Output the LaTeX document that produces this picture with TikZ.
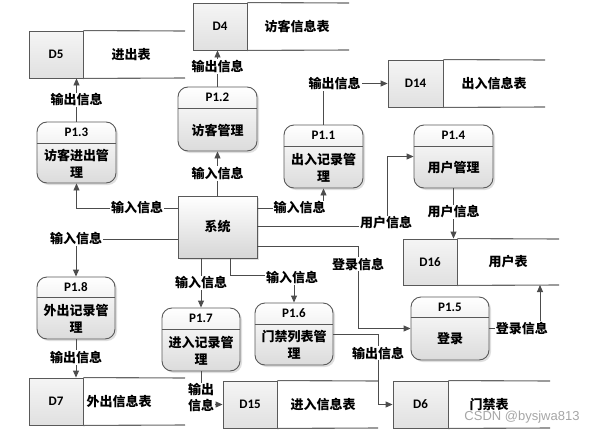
\documentclass[tikz,border=0pt]{standalone}
\usepackage{fontspec}
\setmainfont{Carlito}
\newfontfamily\cjk{Noto Sans CJK SC}
\setsansfont{Liberation Sans}
\usetikzlibrary{arrows.meta,shadows}

\begin{document}
\begin{tikzpicture}[x=1pt, y=-1pt, font=\fontsize{13}{17}\selectfont\bfseries,
  >={Triangle[length=7pt,width=6pt]},
  flow/.style={draw=black!70, line width=0.9pt},
  lbl/.style={fill=white, inner sep=1pt, align=center, font=\fontsize{13}{16}\selectfont\cjk\bfseries},
  proc/.style={draw=black!65, line width=0.9pt, rounded corners=10pt, minimum width=79pt, minimum height=63pt,
    top color=white, bottom color=black!14, drop shadow={shadow xshift=2pt, shadow yshift=-2pt, opacity=0.25}},
  sysbox/.style={draw=black!65, line width=0.9pt, minimum width=79pt, minimum height=62pt,
    top color=white, bottom color=black!16, drop shadow={shadow xshift=2pt, shadow yshift=-2pt, opacity=0.25}},
  sep/.style={draw=black!65, line width=0.9pt},
  pid/.style={font=\fontsize{13}{15}\selectfont\bfseries},
  ptxt/.style={align=center, font=\fontsize{13}{17}\selectfont\cjk\bfseries},
  idcell/.style={draw=black!65, line width=0.9pt, minimum width=54pt, minimum height=47pt,
    top color=black!4, bottom color=black!12},
  storeline/.style={draw=black!60, line width=1.1pt},
  storetxt/.style={font=\fontsize{13}{15}\selectfont\cjk\bfseries}]

  \useasboundingbox (0,0) rectangle (600,434);

  % system
  \node[sysbox, font=\fontsize{13}{15}\selectfont\cjk\bfseries] (sys) at (217.5,227) {系统};

  % data stores
  \node[idcell] (d4) at (220,26.5) {D4};
  \node[storetxt] (d4t) at (297,26.5) {访客信息表};
  \draw[storeline] (d4.north east) -- (349,3);
  \draw[storeline] (d4.south east) -- (349,50);

  \node[idcell] (d5) at (56,54.5) {D5};
  \node[storetxt] (d5t) at (131,54.5) {进出表};
  \draw[storeline] (d5.north east) -- (185,31);
  \draw[storeline] (d5.south east) -- (185,78);

  \node[idcell, minimum width=55pt] (d14) at (415.5,83.5) {D14};
  \node[storetxt] (d14t) at (494,83.5) {出入信息表};
  \draw[storeline] (d14.north east) -- (545,60);
  \draw[storeline] (d14.south east) -- (545,107);

  \node[idcell, minimum height=46pt] (d16) at (430,262) {D16};
  \node[storetxt] (d16t) at (508,262) {用户表};
  \draw[storeline] (d16.north east) -- (559,239);
  \draw[storeline] (d16.south east) -- (559,285);
  \coordinate (d16b) at (540,285);

  \node[idcell, minimum width=55pt] (d6) at (420.5,404.5) {D6};
  \node[storetxt] (d6t) at (489,404.5) {门禁表};
  \draw[storeline] (d6.north east) -- (550,381);
  \draw[storeline] (d6.south east) -- (550,428);

  \node[idcell] (d15) at (250,404.5) {D15};
  \node[storetxt] (d15t) at (323,404.5) {进入信息表};
  \draw[storeline] (d15.north east) -- (378,381);
  \draw[storeline] (d15.south east) -- (378,428);

  \node[idcell] (d7) at (56,401.5) {D7};
  \node[storetxt] (d7t) at (119,401.5) {外出信息表};
  \draw[storeline] (d7.north east) -- (185,378);
  \draw[storeline] (d7.south east) -- (185,425);

  % processes
  \node[proc, minimum height=64pt] (p12) at (217.5,119) {};
  \draw[sep] ([yshift=-22pt]p12.north west) -- ([yshift=-22pt]p12.north east);
  \node[pid] at ([yshift=-11pt]p12.north) {P1.2};
  \node[ptxt] at ([yshift=-11pt]p12.center) {访客管理};

  \node[proc, minimum height=61pt] (p13) at (76.5,152.5) {};
  \draw[sep] ([yshift=-22pt]p13.north west) -- ([yshift=-22pt]p13.north east);
  \node[pid] at ([yshift=-11pt]p13.north) {P1.3};
  \node[ptxt] at ([yshift=-11pt]p13.center) {访客进出管\\理};

  \node[proc] (p11) at (323.5,156.5) {};
  \draw[sep] ([yshift=-22pt]p11.north west) -- ([yshift=-22pt]p11.north east);
  \node[pid] at ([yshift=-11pt]p11.north) {P1.1};
  \node[ptxt] at ([yshift=-11pt]p11.center) {出入记录管\\理};

  \node[proc] (p14) at (453.5,156.5) {};
  \draw[sep] ([yshift=-22pt]p14.north west) -- ([yshift=-22pt]p14.north east);
  \node[pid] at ([yshift=-11pt]p14.north) {P1.4};
  \node[ptxt] at ([yshift=-11pt]p14.center) {用户管理};

  \node[proc, minimum width=78pt] (p15) at (450,328.5) {};
  \draw[sep] ([yshift=-21pt]p15.north west) -- ([yshift=-21pt]p15.north east);
  \node[pid] at ([yshift=-10.5pt]p15.north) {P1.5};
  \node[ptxt] at ([yshift=-10.5pt]p15.center) {登录};

  \node[proc, minimum width=78pt, minimum height=62pt] (p16) at (294,334) {};
  \draw[sep] ([yshift=-22pt]p16.north west) -- ([yshift=-22pt]p16.north east);
  \node[pid] at ([yshift=-11pt]p16.north) {P1.6};
  \node[ptxt] at ([yshift=-11pt]p16.center) {门禁列表管\\理};

  \node[proc, minimum width=78pt] (p17) at (201,339.5) {};
  \draw[sep] ([yshift=-22pt]p17.north west) -- ([yshift=-22pt]p17.north east);
  \node[pid] at ([yshift=-11pt]p17.north) {P1.7};
  \node[ptxt] at ([yshift=-11pt]p17.center) {进入记录管\\理};

  \node[proc, minimum width=78pt, minimum height=62pt] (p18) at (76,308) {};
  \draw[sep] ([yshift=-21pt]p18.north west) -- ([yshift=-21pt]p18.north east);
  \node[pid] at ([yshift=-10.5pt]p18.north) {P1.8};
  \node[ptxt] at ([yshift=-10.5pt]p18.center) {外出记录管\\理};

  % bend points
  \coordinate (k1) at (387,226);
  \coordinate (k2) at (358,246);
  \coordinate (k4) at (230,275);
  \coordinate (k5) at (378,334);

  % flows
  \draw[flow, ->] (sys.north) -- node[lbl]{输入信息} (p12.south);
  \draw[flow, ->] (p12.north) -- node[lbl, pos=0.55]{输出信息} (p12.north |- d4.south);
  \draw[flow, ->] ([yshift=19pt]sys.west) -| node[lbl, pos=0.2]{输入信息} (p13.south);
  \draw[flow, ->] (p13.north) -- node[lbl]{输出信息} (p13.north |- d5.south);
  \draw[flow, ->] ([yshift=19pt]sys.east) -| node[lbl, pos=0.32]{输入信息} (p11.south);
  \draw[flow, ->] (p11.north) |- node[lbl, pos=0.5, xshift=11pt]{输出信息} (d14.west);
  \draw[flow, ->] (sys.east |- k1) -- (k1) |- (p14.west);
  \node[lbl] (u1) at (386,223) {用户信息};
  \draw[flow, ->] (p14.south) -- node[lbl, pos=0.47]{用户信息} (p14.south |- d16.north);
  \draw[flow, ->] (sys.east |- k2) -- (k2) |- node[lbl, pos=0.11]{登录信息} (p15.west);
  \draw[flow, ->] (p15.east) -| node[lbl, pos=0.32]{登录信息} (d16b);
  \draw[flow, ->] (p17.north |- sys.south) -- node[lbl]{输入信息} (p17.north);
  \draw[flow, ->] (k4 |- sys.south) -- (k4) -| node[lbl, pos=0.5, yshift=-3pt, xshift=-2pt]{输入信息} (p16.north);
  \draw[flow, ->] ([yshift=-12pt]sys.west) -| node[lbl, pos=0.5]{输入信息} (p18.north);
  \draw[flow, ->] (p18.south) -- node[lbl, pos=0.47]{输出信息} (p18.south |- d7.north);
  \draw[flow, ->] (p17.south) |- node[lbl, pos=0.4]{输出\\信息} (d15.west);
  \draw[flow, ->] (p16.east) -- (k5) |- node[lbl, pos=0.135]{输出信息} (d6.west);

  % watermark
  \node[text=black!35, font=\fontsize{13}{15}\selectfont\sffamily] (wm) at (522,417) {CSDN @bysjwa813};
\end{tikzpicture}
\end{document}
